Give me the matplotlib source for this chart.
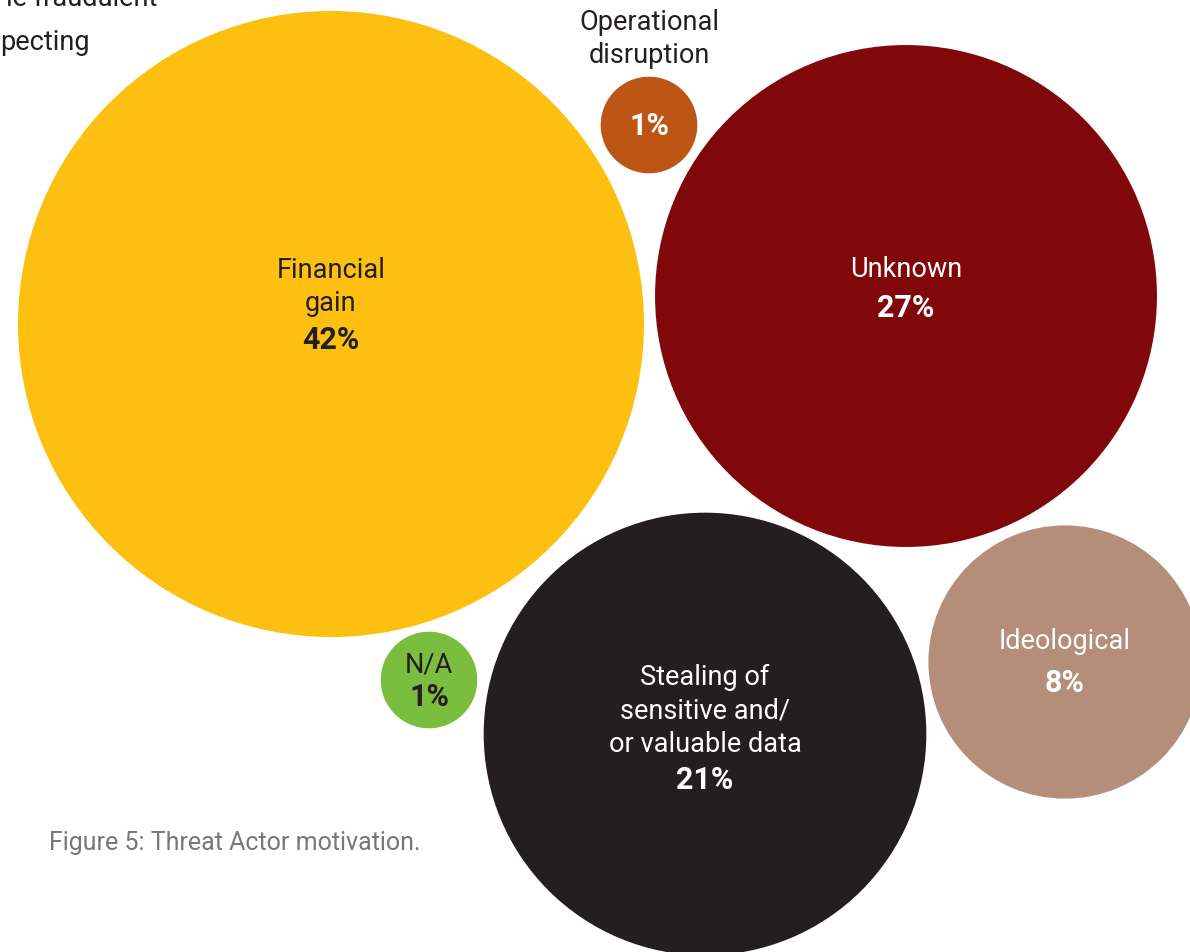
import numpy as np
import matplotlib.pyplot as plt
from matplotlib.patches import Circle

plt.rcParams['font.family'] = ['Roboto', 'DejaVu Sans']

# threat actor motivation shares (%)
labels = ["Financial\ngain", "Unknown", "Stealing of\nsensitive and/\nor valuable data",
          "Ideological", "Operational\ndisruption", "N/A"]
shares = [42, 27, 21, 8, 1, 1]
colors = ["#FDC010", "#80080B", "#231F20", "#B48E78", "#BD5614", "#7BBE3F"]
text_colors = ["#231F20", "white", "white", "white", "#231F20", "#231F20"]
pct_colors = ["#231F20", "white", "white", "white", "white", "#231F20"]

# layout: bubble centres, label centre y, percentage y (pixel space)
cx = [331, 906, 705, 1065, 649, 429]
cy = [325, 297, 735, 663, 126, 681]
name_y = [287, 270, 711, 642, 39, 665]
pct_y = [340, 308, 780, 683, 126, 697]

scale = 313 / np.sqrt(42)  # radius per sqrt(share)

fig = plt.figure(figsize=(11.9, 9.53), dpi=100)
ax = fig.add_axes([0, 0, 1, 1])
ax.set_xlim(0, 1190)
ax.set_ylim(953, 0)
ax.set_aspect('equal')
ax.axis('off')

for i in range(len(shares)):
    r = scale * np.sqrt(shares[i])
    ax.add_patch(Circle((cx[i], cy[i]), r, color=colors[i], lw=0))
    ax.text(cx[i], name_y[i], labels[i], ha='center', va='center', fontsize=19.5,
            color=text_colors[i], linespacing=1.3)
    ax.text(cx[i], pct_y[i], f"{shares[i]}%", ha='center', va='center', fontsize=22,
            fontweight='bold', color=pct_colors[i])

# text running in from the left page column
ax.text(157, -2, "le fraudulent", ha='right', va='center', fontsize=19.5, color="#231F20")
ax.text(0, 42, "pecting", ha='left', va='center', fontsize=19.5, color="#231F20")

ax.text(49, 843, "Figure 5: Threat Actor motivation.", ha='left', va='center',
        fontsize=18, color="#777777")

fig.savefig("out.png", dpi=100)
